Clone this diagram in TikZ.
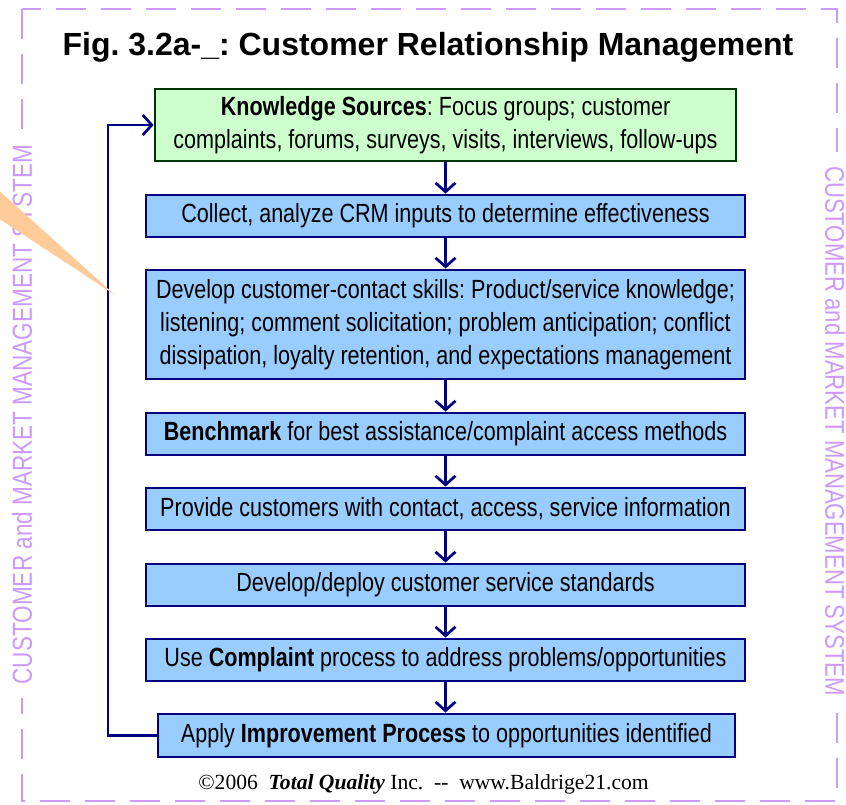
\documentclass[tikz,border=0pt]{standalone}
\usepackage{fontspec}
\setmainfont{Liberation Serif}
\newfontfamily\arialfont{Liberation Sans}
\newfontfamily\narrow[FakeStretch=0.82]{Liberation Sans}
\usetikzlibrary{arrows.meta}
\definecolor{boxblue}{HTML}{99CCFF}
\definecolor{navyline}{HTML}{000080}
\definecolor{greenfill}{HTML}{CCFFCC}
\definecolor{greenline}{HTML}{003300}
\definecolor{lav}{HTML}{CC99FF}
\definecolor{peach}{HTML}{FFCC99}
\tikzset{
  stepbox/.style={draw=navyline, fill=boxblue, line width=2.8pt, minimum width=599pt,
    minimum height=42pt, inner sep=0pt, align=center,
    font=\narrow\fontsize{26.3}{33}\selectfont},
  flow/.style={draw=navyline, line width=2.7pt, -{Straight Barb[length=9pt,width=20pt]}},
  sidetext/.style={text=lav, fill=white, inner ysep=4pt, inner xsep=14pt, font=\narrow\fontsize{27.5}{30}\selectfont}
}
\frenchspacing
\begin{document}
\begin{tikzpicture}[x=1pt,y=-1pt]
\useasboundingbox (0,0) rectangle (846,804);
\fill[white] (0,0) rectangle (846,804);
\draw[lav, line width=2pt, dash pattern=on 30pt off 15pt] (22,9) rectangle (837,801);
\node[sidetext, rotate=90] (lside) at (22,414.5) {CUSTOMER and MARKET MANAGEMENT SYSTEM};
\node[sidetext, rotate=-90, font=\narrow\fontsize{27}{30}\selectfont] (rside) at (835,431) {CUSTOMER and MARKET MANAGEMENT SYSTEM};
\node[font=\arialfont\bfseries\fontsize{32}{36}\selectfont, anchor=base, inner sep=0pt] (title) at (428,55) {Fig. 3.2a-\textunderscore: Customer Relationship Management};
\node[stepbox, draw=greenline, fill=greenfill, minimum width=581pt, minimum height=72pt] (b1) at (445.5,125)
  {\textbf{Knowledge Sources}: Focus groups; customer\\complaints, forums, surveys, visits, interviews, follow-ups};
\node[stepbox] (b2) at (445.5,216) {Collect, analyze CRM inputs to determine effectiveness};
\node[stepbox, minimum height=109pt] (b3) at (445.5,324.5)
  {Develop customer-contact skills: Product/service knowledge;\\listening; comment solicitation; problem anticipation; conflict\\dissipation, loyalty retention, and expectations management};
\node[stepbox] (b4) at (445.5,434) {\textbf{Benchmark} for best assistance/complaint access methods};
\node[stepbox] (b5) at (445.5,509) {Provide customers with contact, access, service information};
\node[stepbox] (b6) at (445.5,585) {Develop/deploy customer service standards};
\node[stepbox] (b7) at (445.5,660) {Use \textbf{Complaint} process to address problems/opportunities};
\node[stepbox, minimum width=577pt, minimum height=43pt] (b8) at (446.5,735.5) {Apply \textbf{Improvement Process} to opportunities identified};
\draw[flow] (b1.south) -- (b2.north);
\draw[flow] (b2.south) -- (b3.north);
\draw[flow] (b3.south) -- (b4.north);
\draw[flow] (b4.south) -- (b5.north);
\draw[flow] (b5.south) -- (b6.north);
\draw[flow] (b6.south) -- (b7.north);
\draw[flow] (b7.south) -- (b7.south |- b8.north);
\coordinate (loopc) at (108,735.5);
\draw[flow] (b8.west) -- (loopc) |- (b1.west);
\fill[peach] (-5,187) -- (115,295) -- (-5,216) -- cycle;
\node[font=\fontsize{21.6}{24}\selectfont, anchor=base, inner sep=0pt] (foot) at (423.5,789)
  {©2006\ \ {\bfseries\itshape Total Quality} Inc.\ \ -{}-\ \ www.Baldrige21.com};
\end{tikzpicture}
\end{document}
